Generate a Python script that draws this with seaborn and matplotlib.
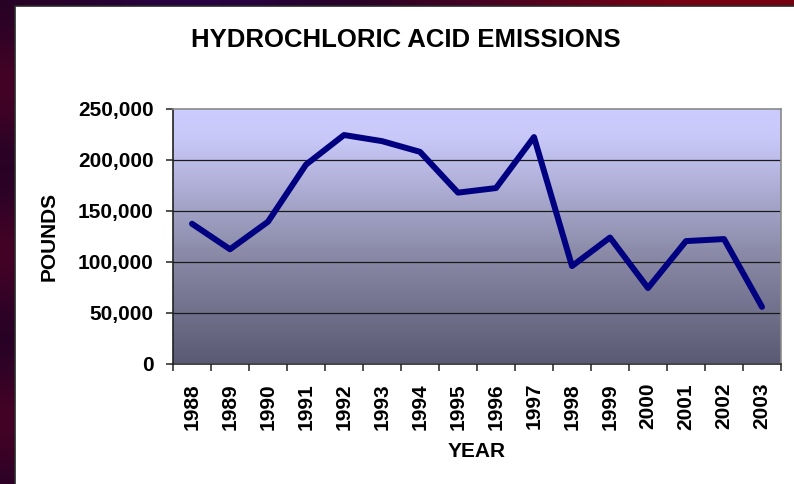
import numpy as np
import pandas as pd
import matplotlib
matplotlib.use("Agg")
import matplotlib.pyplot as plt
from matplotlib.colors import LinearSegmentedColormap
from matplotlib.patches import Rectangle
from matplotlib.ticker import FixedLocator, FuncFormatter
import seaborn as sns

# Annual hydrochloric acid emissions (pounds)
years = ["1988", "1989", "1990", "1991", "1992", "1993", "1994", "1995",
         "1996", "1997", "1998", "1999", "2000", "2001", "2002", "2003"]
pounds = [137000, 112000, 139000, 195000, 224000, 218000, 207500, 167500,
          172000, 222000, 95500, 123500, 74000, 120000, 122000, 55500]
y_ticks = [0, 50000, 100000, 150000, 200000, 250000]

df = pd.DataFrame({"year": years, "pounds": pounds})

sns.set_theme(style="white")
plt.rcParams["font.family"] = ["Liberation Sans", "DejaVu Sans"]
plt.rcParams["text.color"] = "black"
plt.rcParams["axes.labelcolor"] = "black"
plt.rcParams["xtick.color"] = "black"
plt.rcParams["ytick.color"] = "black"

W, H = 794, 484
fig = plt.figure(figsize=(W / 100, H / 100), dpi=100)

# Dark slide backdrop behind the white chart panel
bg = fig.add_axes([0, 0, 1, 1])
bg.set_axis_off()
xx = np.linspace(0, 1, 200)
yy = np.linspace(0, 1, 120)
X, Y = np.meshgrid(xx, yy)
r = 0.16 + 0.30 * np.clip((X - 0.45) / 0.4, 0, 1) + 0.10 * np.sin(Y * 9) ** 2
g = 0.01 + 0.0 * X
b = 0.14 + 0.12 * np.exp(-((X - 0.25) / 0.15) ** 2) - 0.08 * np.clip((X - 0.6) / 0.3, 0, 1)
img = np.dstack([np.clip(r, 0, 1), g, np.clip(b, 0, 1)])
bg.imshow(img, extent=[0, 1, 0, 1], aspect="auto", origin="upper")
bg.set_xlim(0, 1)
bg.set_ylim(0, 1)
bg.add_patch(Rectangle((15 / W, -0.01), 1, 1 - 6 / H + 0.01,
                       facecolor="white", edgecolor="#2a2a2a", linewidth=1.2,
                       transform=bg.transAxes))

# Main plot area
left, right = 173 / W, 781 / W
bottom, top = 1 - 363.5 / H, 1 - 108.5 / H
ax = fig.add_axes([left, bottom, right - left, top - bottom])

# Lavender-to-slate vertical gradient fill of the plot area
grad_cmap = LinearSegmentedColormap.from_list(
    "panel", [(0.0, "#5a5a74"), (0.45, "#8d8dab"), (0.88, "#c8c8f8"), (1.0, "#ccccff")])
grad = np.linspace(0, 1, 256).reshape(-1, 1)
ax.imshow(grad, cmap=grad_cmap, extent=[-0.5, 15.5, 0, 250000],
          aspect="auto", origin="lower", zorder=0)

sns.lineplot(data=df, x="year", y="pounds", ax=ax, color="#000080",
             linewidth=4.3, sort=False, zorder=3)
ax.lines[-1].set_solid_capstyle("round")

ax.set_xlim(-0.5, 15.5)
ax.set_ylim(0, 250000)

# Gridlines
for v in y_ticks[1:-1]:
    ax.axhline(v, color="#1a1a1a", linewidth=0.9, zorder=1)

for side in ["left", "bottom"]:
    ax.spines[side].set_color("#222222")
    ax.spines[side].set_linewidth(1.2)
for side in ["top", "right"]:
    ax.spines[side].set_color("#8a8a8a")
    ax.spines[side].set_linewidth(1.2)
    ax.spines[side].set_visible(True)

ax.set_yticks(y_ticks)
ax.yaxis.set_major_formatter(FuncFormatter(lambda v, p: f"{int(v):,}"))
ax.tick_params(axis="y", which="major", left=True, length=5, width=1.1,
               color="#222222", pad=9, labelsize=15, labelcolor="black")
ax.set_xticks(range(len(years)))
ax.set_xticklabels(years, rotation=90)
ax.tick_params(axis="x", which="major", bottom=False, length=0, pad=14,
               labelsize=15, labelcolor="black")
ax.xaxis.set_minor_locator(FixedLocator(np.arange(-0.5, 16, 1)))
ax.tick_params(axis="x", which="minor", bottom=True, length=5, width=1.1, color="#222222")
for lab in ax.get_xticklabels() + ax.get_yticklabels():
    lab.set_fontweight("bold")

ax.set_xlabel("YEAR", fontsize=15, fontweight="bold", labelpad=9, color="black")
ax.set_ylabel("POUNDS", fontsize=15, fontweight="bold", labelpad=14, color="black")

fig.text(406 / W, 1 - 40 / H, "HYDROCHLORIC ACID EMISSIONS", ha="center", va="center",
         fontsize=18.5, fontweight="bold", color="black")

fig.savefig("out.png", dpi=100)
